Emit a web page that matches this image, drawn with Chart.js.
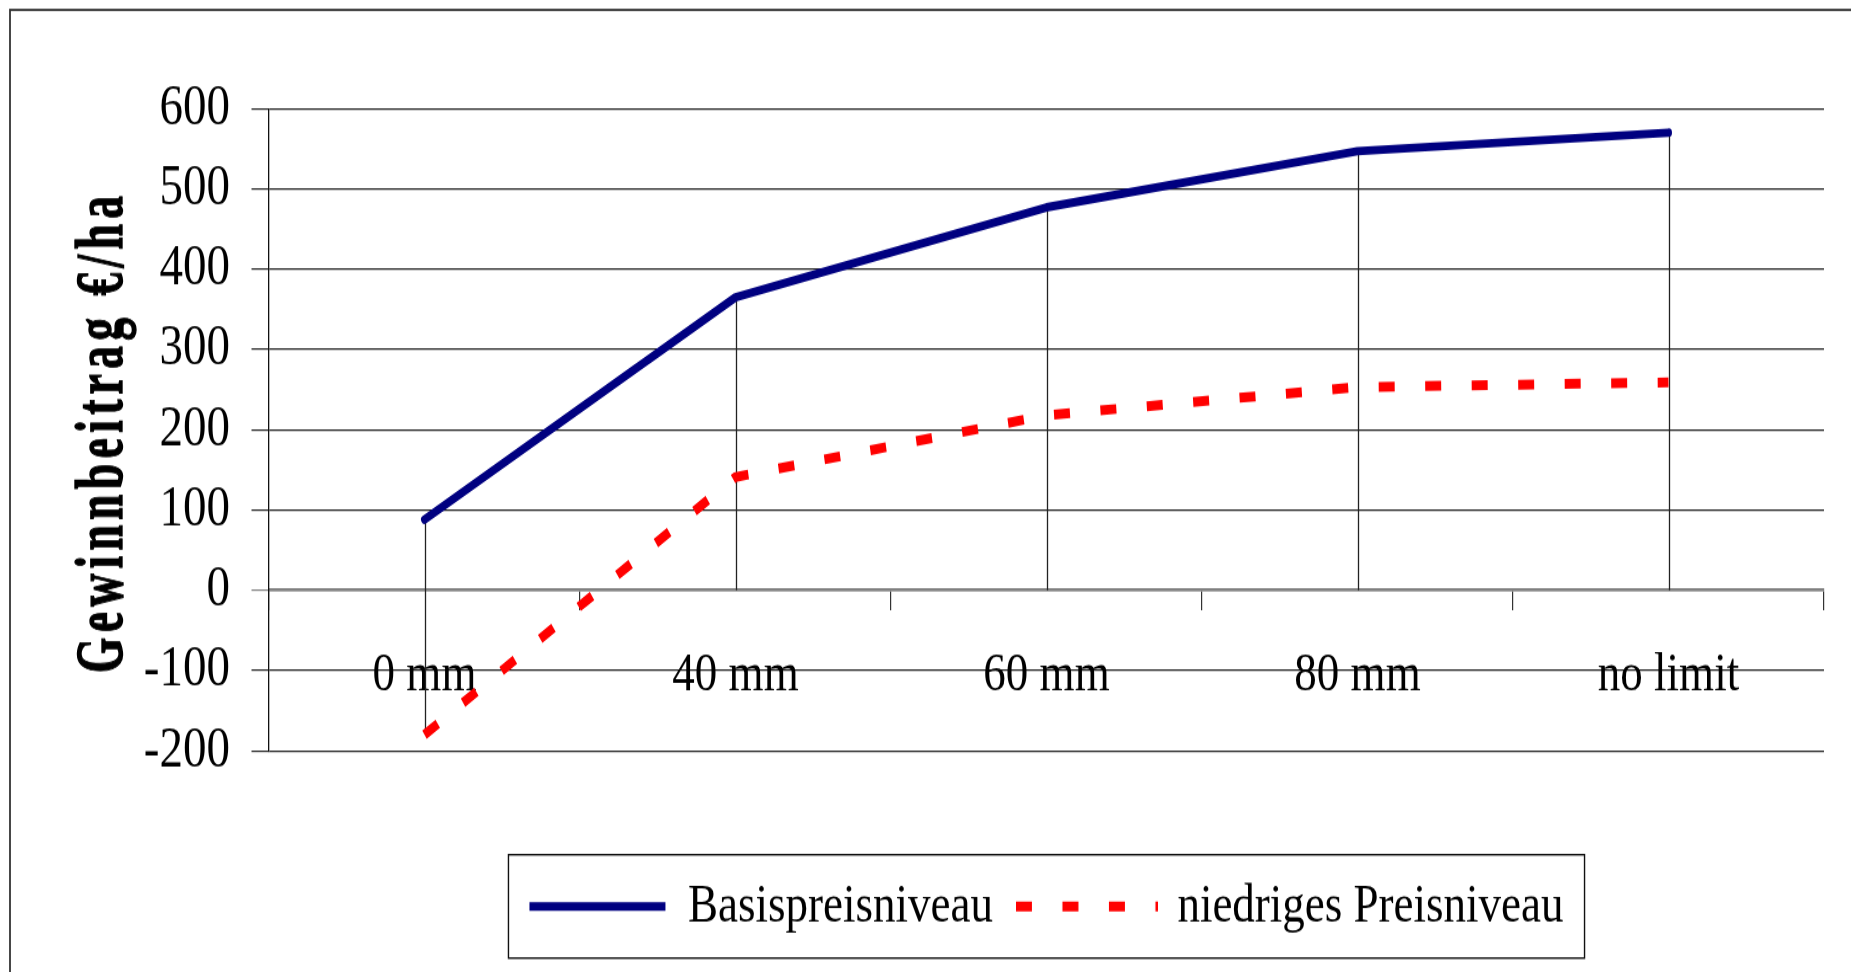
<!DOCTYPE html>
<html>
<head>
<meta charset="utf-8">
<title>Gewinnbeitrag</title>
<script src="https://cdn.jsdelivr.net/npm/chart.js@4.4.1/dist/chart.umd.min.js"></script>
<style>
  html, body { margin: 0; padding: 0; background: #fff; overflow: hidden; }
  canvas { display: block; }
</style>
</head>
<body>
<!-- the text in the original is tall and narrow, so the canvas is drawn 790 high and stretched to 972 -->
<canvas id="chart" width="1851" height="790" style="width:1851px;height:972px"></canvas>
<script>
const categories = ['0 mm', '40 mm', '60 mm', '80 mm', 'no limit'];
const basisValues = [88, 365, 477, 547, 570];
const niedrigValues = [-180, 141, 218, 253, 259];
const yTicks = [-200, -100, 0, 100, 200, 300, 400, 500, 600];
const seriesNames = ['Basispreisniveau', 'niedriges Preisniveau'];
const yTitle = 'Gewinnbeitrag €/ha';

const serif = 'Liberation Serif';
const redDash = [16, 30.5];

// legend sample for the dashed series (the 'line' point style ignores the dash)
function dashSample(color, width, dash, len) {
    const c = document.createElement('canvas');
    c.width = len;
    c.height = Math.ceil(width) + 2;
    const g = c.getContext('2d');
    g.strokeStyle = color;
    g.lineWidth = width;
    g.setLineDash(dash);
    g.beginPath();
    g.moveTo(0, c.height / 2);
    g.lineTo(len, c.height / 2);
    g.stroke();
    return c;
}

// outer border of the chart object (only left and top are inside the picture)
const frame = {
    id: 'frame',
    beforeDraw(chart) {
        const ctx = chart.ctx;
        ctx.save();
        ctx.strokeStyle = '#333';
        ctx.lineWidth = 1.8;
        ctx.strokeRect(10, 8, chart.width + 20, chart.height + 20);
        ctx.restore();
    }
};

// Excel style drop lines, from the top point down to the axis (or the lowest point)
const dropLines = {
    id: 'dropLines',
    beforeDatasetsDraw(chart) {
        const {ctx, scales: {x, y}} = chart;
        ctx.save();
        ctx.strokeStyle = '#222';
        ctx.lineWidth = 1.3;
        categories.forEach((c, i) => {
            const vals = chart.data.datasets.map(d => d.data[i]);
            const hi = Math.max(...vals);
            const lo = Math.min(0, ...vals);
            const px = Math.round(x.getPixelForValue(i)) + 0.5;
            ctx.beginPath();
            ctx.moveTo(px, y.getPixelForValue(hi));
            ctx.lineTo(px, y.getPixelForValue(lo));
            ctx.stroke();
        });
        ctx.restore();
    }
};

// bold, spaced and squeezed axis title
const axisTitle = {
    id: 'axisTitle',
    afterDraw(chart) {
        const ctx = chart.ctx;
        ctx.save();
        ctx.translate(122, 351);
        ctx.rotate(-Math.PI / 2);
        ctx.font = 'bold 68px "' + serif + '"';
        ctx.letterSpacing = '8px';
        ctx.fillStyle = '#000';
        ctx.strokeStyle = '#000';
        ctx.lineWidth = 1.4;
        ctx.textAlign = 'center';
        ctx.textBaseline = 'alphabetic';
        ctx.fillText(yTitle, 0, 0, 392);
        ctx.strokeText(yTitle, 0, 0, 392);
        ctx.letterSpacing = '0px';
        ctx.restore();
    }
};

// box round the legend
const legendBox = {
    id: 'legendBox',
    afterDraw(chart) {
        const boxes = chart.legend && chart.legend.legendHitBoxes;
        if (!boxes || !boxes.length) return;
        const first = boxes[0], last = boxes[boxes.length - 1];
        const mid = first.top + first.height / 2;
        const ctx = chart.ctx;
        ctx.save();
        ctx.strokeStyle = '#111';
        ctx.lineWidth = 1.4;
        ctx.strokeRect(first.left - 21, mid - 42, last.left + last.width + 21 - (first.left - 21), 84);
        ctx.restore();
    }
};

const chart = new Chart(document.getElementById('chart'), {
    type: 'line',
    data: {
        labels: categories,
        datasets: [{
            label: seriesNames[0],
            data: basisValues,
            borderColor: '#000080',
            backgroundColor: '#000080',
            borderWidth: 7,
            borderCapStyle: 'round',
            borderJoinStyle: 'round',
            pointRadius: 0,
            pointStyle: 'line',
            tension: 0,
            fill: false
        }, {
            label: seriesNames[1],
            data: niedrigValues,
            borderColor: '#ff0000',
            backgroundColor: '#ff0000',
            borderWidth: 8,
            borderDash: redDash,
            borderCapStyle: 'butt',
            pointRadius: 0,
            pointStyle: dashSample('#ff0000', 8, redDash, 142),
            tension: 0,
            fill: false
        }]
    },
    options: {
        responsive: false,
        devicePixelRatio: 1,
        animation: false,
        events: [],
        layout: { padding: { left: 0, right: 27, top: 88.3, bottom: 20.8 } },
        scales: {
            x: {
                offset: true,
                position: { y: 0 },
                afterFit: s => { s.height = 0; },
                grid: { display: true, drawOnChartArea: false, drawTicks: true, offset: true, tickLength: 15.4, color: '#333', lineWidth: 1.2 },
                border: { display: true, color: '#808080', width: 2.5 },
                ticks: { padding: 27.3, color: '#000', maxRotation: 0, autoSkip: false, font: { family: serif, size: 45 } }
            },
            y: {
                min: yTicks[0],
                max: yTicks[yTicks.length - 1],
                afterFit: s => { s.width = 269; },
                ticks: { stepSize: yTicks[1] - yTicks[0], padding: 21.5, color: '#000', font: { family: serif, size: 47 } },
                grid: { color: c => (c.tick && c.tick.value === 0 ? '#808080' : '#222'), lineWidth: 1.2, tickLength: 17.5 },
                border: { display: true, color: '#111', width: 1.3 }
            }
        },
        plugins: {
            tooltip: { enabled: false },
            legend: {
                position: 'bottom',
                fullSize: false,
                align: 'center',
                title: { display: true, text: '', font: { size: 1 }, padding: { top: 76.8, bottom: 0 } },
                labels: {
                    usePointStyle: true,
                    pointStyleWidth: 136,
                    padding: 26,
                    color: '#000',
                    font: { family: serif, size: 45 }
                }
            }
        }
    },
    plugins: [frame, dropLines, axisTitle, legendBox]
});
</script>
</body>
</html>
